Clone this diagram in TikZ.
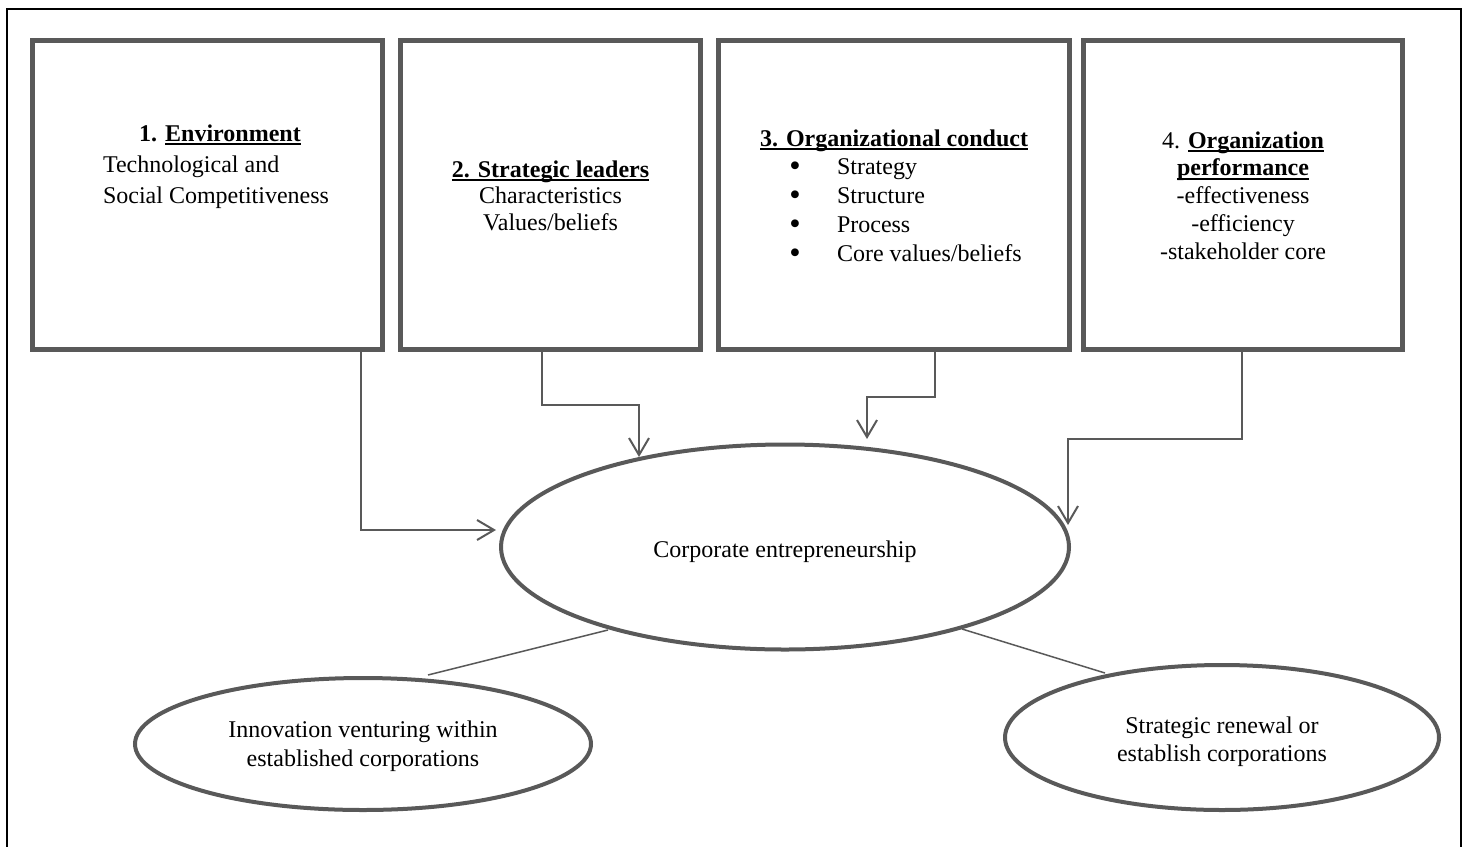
\documentclass[tikz,border=0pt]{standalone}
\usepackage{fontspec}
\usepackage{graphicx}
\setmainfont{Liberation Serif}
\usetikzlibrary{shapes.geometric,arrows.meta}
\definecolor{lg}{RGB}{89,89,89}
\newsavebox\ulbox
\newcommand\ulx[1]{\sbox\ulbox{#1}\rlap{\rule[-4pt]{\wd\ulbox}{1.8pt}}\usebox\ulbox}
\newcommand\bigbul{\llap{\raisebox{-2pt}{\scalebox{1.35}{\textbullet}}\hspace{36.3pt}}}
\tikzset{
  box/.style={draw=lg, line width=5pt, rectangle, minimum width=#1, minimum height=309pt, inner sep=0pt, outer sep=0pt},
  ell/.style={draw=lg, line width=4pt, ellipse, inner sep=0pt, outer sep=0pt, align=center},
  arr/.style={draw=lg, line width=2pt, -{Straight Barb[length=17pt,width=20pt]}},
  link/.style={draw=lg, line width=1.5pt},
  txt/.style={inner sep=0pt, outer sep=0pt}
}
\begin{document}
\begin{tikzpicture}[x=1pt, y=-1pt, font=\fontsize{24}{29}\selectfont]
\useasboundingbox (0,0) rectangle (1466,846);
% outer frame
\draw[black, line width=2pt] (7,870) -- (7,9) -- (1461,9) -- (1461,870);
% boxes
\node[box=350pt] (b1) at (207.5,195) {};
\node[box=300pt] (b2) at (550.5,195) {};
\node[box=351pt] (b3) at (894,195) {};
\node[box=319pt] (b4) at (1243,195) {};
% box texts
\node[txt, anchor=base] (t1h) at (220,141) {\bfseries 1. \ulx{Environment}};
\node[txt, anchor=north west, align=left, font=\fontsize{24}{31}\selectfont] (t1) at (103,155)
  {\rule{0pt}{17pt}Technological and\\Social Competitiveness};
\node[txt, anchor=north, align=center, font=\fontsize{24}{26.5}\selectfont] (t2) at (550.5,160)
  {\rule{0pt}{17pt}{\bfseries\ulx{2. Strategic leaders}}\\Characteristics\\Values/beliefs};
\node[txt, anchor=base] (t3h) at (894,146) {\bfseries\ulx{3. Organizational conduct}};
\node[txt, anchor=north west, align=left, font=\fontsize{24}{29.3}\selectfont] (t3) at (837,157)
  {\rule{0pt}{17pt}\bigbul Strategy\\
   \bigbul Structure\\
   \bigbul Process\\
   \bigbul Core values/beliefs};
\node[txt, anchor=north, align=center, font=\fontsize{24}{27.75}\selectfont] (t4) at (1243,131)
  {\rule{0pt}{17pt}4. {\bfseries\ulx{Organization}}\\{\bfseries\ulx{performance}}\\-effectiveness\\-efficiency\\-stakeholder core};
% ellipses
\node[ell, minimum width=568pt, minimum height=205pt, text height=25.2pt, text depth=5.2pt] (ce) at (785,547) {Corporate entrepreneurship};
\node[ell, minimum width=456pt, minimum height=132pt] (li) at (363,744)
  {\rule{0pt}{20.2pt}Innovation venturing within\\established corporations};
\node[ell, minimum width=434pt, minimum height=145pt, font=\fontsize{24}{28}\selectfont] (ri) at (1222,737.5)
  {\rule{0pt}{24.2pt}Strategic renewal or\\establish corporations};
% arrows
\draw[arr] ([shift={(153,0)}]b1.south) |- ([shift={(-289,-17)}]ce.center);
\draw[arr] ([shift={(-8.5,0)}]b2.south) |- ([shift={(-146,-142)}]ce.center) -- ([shift={(-146,-90)}]ce.center);
\draw[arr] ([shift={(41,0)}]b3.south) |- ([shift={(82,-150)}]ce.center) -- ([shift={(82,-108)}]ce.center);
\draw[arr] ([shift={(-1,0)}]b4.south) |- ([shift={(283,-108)}]ce.center) -- ([shift={(283,-22)}]ce.center);
% links
\draw[link] ([shift={(-177,83)}]ce.center) -- ([shift={(65,-69)}]li.center);
\draw[link] ([shift={(177,82)}]ce.center) -- ([shift={(-117,-64.5)}]ri.center);
\end{tikzpicture}
\end{document}
